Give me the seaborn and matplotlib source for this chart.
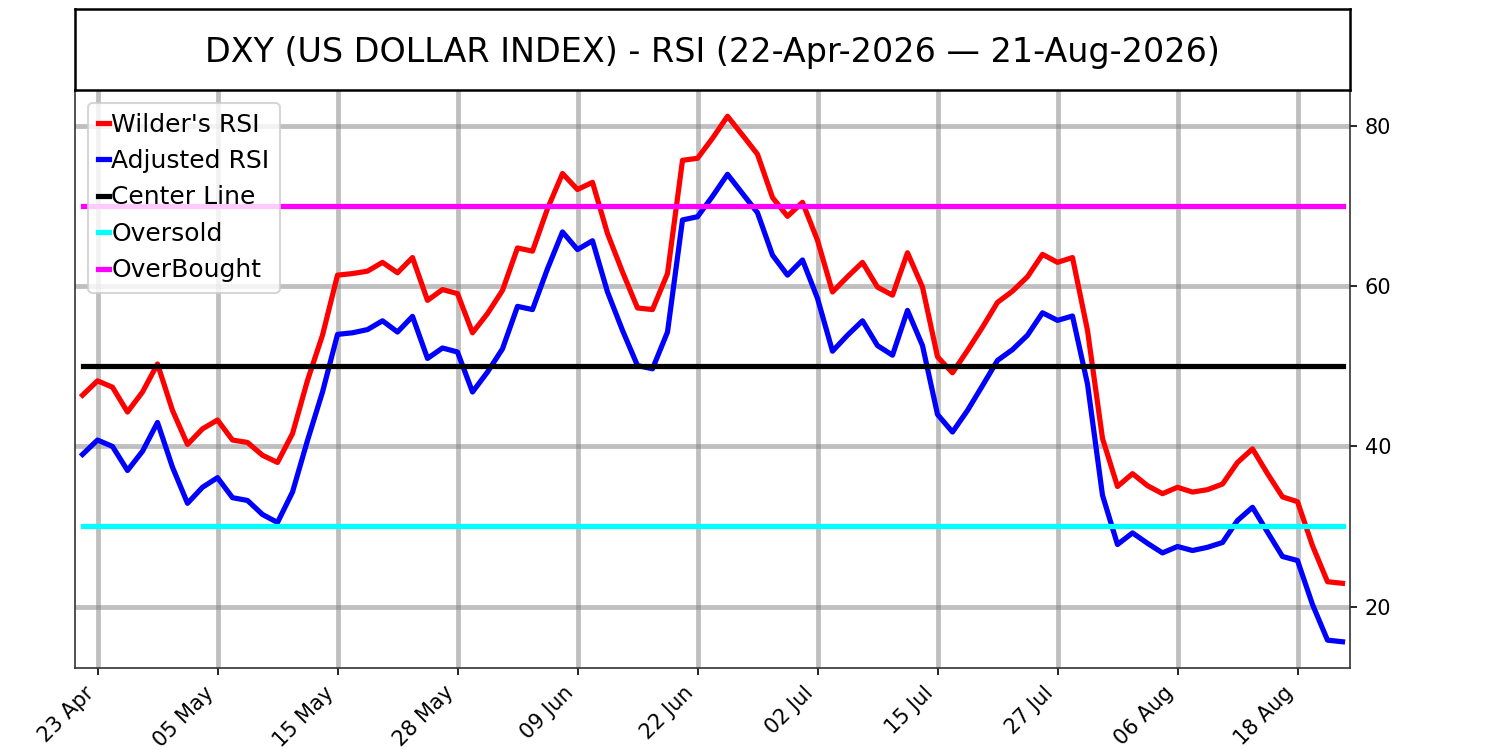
import matplotlib
matplotlib.use("Agg")
import matplotlib.pyplot as plt
from matplotlib.ticker import MultipleLocator
import numpy as np
import pandas as pd
import seaborn as sns


# Data

holidays = ["2026-05-25", "2026-06-19", "2026-07-03"]
dates = pd.bdate_range("2026-04-22", "2026-08-21", freq="C", holidays=holidays)

wilder_rsi = [46.4, 48.2, 47.4, 44.3, 46.8, 50.3, 44.5, 40.25, 42.2, 43.3,
              40.8, 40.5, 38.9, 38.0, 41.6, 48.25, 53.9, 61.4, 61.6, 61.9,
              63.0, 61.7, 63.6, 58.25, 59.6, 59.1, 54.2, 56.6, 59.5, 64.8,
              64.4, 69.7, 74.1, 72.1, 73.0, 66.6, 61.8, 57.3, 57.1, 61.6,
              75.75, 76.0, 78.5, 81.25, 78.9, 76.5, 71.1, 68.75, 70.5, 65.75,
              59.3, 61.2, 63.0, 59.9, 58.9, 64.2, 59.9, 51.2, 49.2, 52.0,
              54.9, 58.0, 59.4, 61.2, 64.0, 63.0, 63.6, 54.5, 41.0, 35.0,
              36.6, 35.1, 34.1, 34.9, 34.3, 34.6, 35.3, 38.0, 39.7, 36.6,
              33.7, 33.1, 27.6, 23.1, 22.9]

adjusted_rsi = [39.0, 40.8, 40.0, 37.0, 39.4, 43.0, 37.4, 32.9, 34.9, 36.1,
                33.6, 33.25, 31.5, 30.5, 34.3, 40.75, 46.8, 54.0, 54.2, 54.6,
                55.7, 54.3, 56.25, 51.0, 52.3, 51.8, 46.8, 49.3, 52.2, 57.5,
                57.1, 62.2, 66.8, 64.6, 65.7, 59.3, 54.5, 50.1, 49.7, 54.3,
                68.3, 68.7, 71.25, 74.0, 71.6, 69.2, 63.9, 61.4, 63.3, 58.5,
                51.9, 53.9, 55.7, 52.6, 51.4, 57.0, 52.6, 44.0, 41.8, 44.5,
                47.6, 50.75, 52.1, 53.9, 56.7, 55.75, 56.3, 47.8, 33.9, 27.75,
                29.2, 27.9, 26.7, 27.5, 27.0, 27.4, 28.0, 30.75, 32.4, 29.3,
                26.25, 25.75, 20.25, 15.8, 15.6]

center_level = 50
oversold_level = 30
overbought_level = 70

title = "DXY (US DOLLAR INDEX) - RSI (22-Apr-2026 \u2014 21-Aug-2026)"

# Data processing

n = len(wilder_rsi)
idx = np.arange(n)
df = pd.DataFrame({"idx": idx, "wilder": wilder_rsi, "adjusted": adjusted_rsi,
                   "center": [center_level] * n, "oversold": [oversold_level] * n,
                   "overbought": [overbought_level] * n})

tick_pos = idx[1::8]
tick_labels = [dates[i].strftime("%d %b") for i in tick_pos]

# Plot

fig = plt.figure(figsize=(10, 5), dpi=150)
ax = fig.add_axes([0.05, 0.1093, 0.85, 0.7707])
tax = fig.add_axes([0.05, 0.88, 0.85, 0.108])

lw = 2.5
sns.lineplot(data=df, x="idx", y="wilder", ax=ax, color="red", lw=lw, label="Wilder's RSI")
sns.lineplot(data=df, x="idx", y="adjusted", ax=ax, color="blue", lw=lw, label="Adjusted RSI")
sns.lineplot(data=df, x="idx", y="center", ax=ax, color="black", lw=lw, label="Center Line")
sns.lineplot(data=df, x="idx", y="oversold", ax=ax, color="cyan", lw=lw, label="Oversold")
sns.lineplot(data=df, x="idx", y="overbought", ax=ax, color="magenta", lw=lw, label="OverBought")

ax.set_xlim(-0.5, n - 0.5)
ax.set_xticks(tick_pos)
ax.set_xticklabels(tick_labels, rotation=45, ha="right", fontsize=10)
ax.yaxis.tick_right()
ax.yaxis.set_major_locator(MultipleLocator(20))
ax.tick_params(axis="y", labelsize=10)
ax.set_xlabel("")
ax.set_ylabel("")
ax.grid(True, color="grey", alpha=0.5, lw=2.3)
for s in ax.spines.values():
    s.set_color("#333333")

ax.legend(loc="upper left", fontsize=12, handlelength=0.45, handletextpad=0.1)

tax.set_xticks([])
tax.set_yticks([])
for s in tax.spines.values():
    s.set_color("black")
    s.set_linewidth(1.2)
tax.text(0.5, 0.46, title, ha="center", va="center", fontsize=16, transform=tax.transAxes)

fig.savefig("out.png", dpi=150)
